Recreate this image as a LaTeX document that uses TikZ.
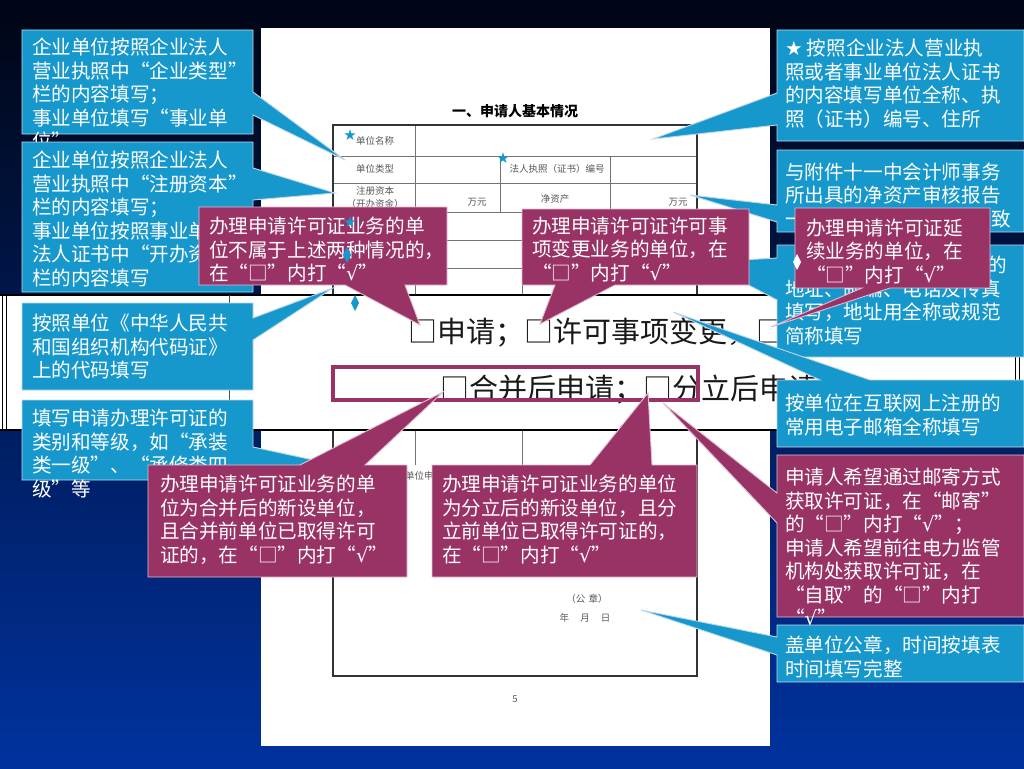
\documentclass[tikz,border=0pt]{standalone}
\usepackage{fontspec}
\setmainfont{Noto Sans CJK SC}
\newfontfamily\symf{DejaVu Sans}
\newcommand\ck{{\symf √}}
\definecolor{cblue}{RGB}{22,152,204}
\definecolor{cmag}{RGB}{153,51,102}
\definecolor{bgtop}{RGB}{0,5,20}
\definecolor{bgbot}{RGB}{0,50,158}
\definecolor{edgeb}{RGB}{190,215,235}
\definecolor{edgem}{RGB}{225,190,210}
\tikzset{
  bbox/.style={fill=cblue, draw=edgeb, line width=0.9pt, line join=miter},
  mbox/.style={fill=cmag, draw=edgem, line width=0.9pt, line join=miter},
  ctext/.style={anchor=north west, inner sep=0pt, outer sep=0pt, align=left, text=white,
    font=\fontsize{19.6}{23.5}\selectfont},
  tabtext/.style={font=\fontsize{9.5}{11}\selectfont, text=black!65, inner sep=0pt},
  gridline/.style={draw=black!55, line width=0.6pt},
  outerline/.style={draw=black!80, line width=1.4pt},
  starmark/.style={text=cblue, font=\symf\fontsize{15}{15}\selectfont, inner sep=0pt},
  bigtext/.style={anchor=west, inner sep=0pt, font=\fontsize{29}{29}\selectfont, text=black!90}
}
\begin{document}
\begin{tikzpicture}[x=1pt,y=-1pt]
\useasboundingbox (0,0) rectangle (1024,768);
% background
\shade[top color=bgtop, bottom color=bgbot] (0,0) rectangle (1024,768);
% page
\fill[white] (261,28) rectangle (770,746);
\node[font=\bfseries\fontsize{14}{14}\selectfont, inner sep=0pt] (title) at (515,111) {一、申请人基本情况};
% upper table
\draw[gridline] (333,156) -- (697,156) (333,183) -- (697,183) (333,212) -- (697,212)
  (333,240) -- (697,240) (333,268) -- (697,268);
\draw[gridline] (415,125) -- (415,295) (500,156) -- (500,212) (610,156) -- (610,212)
  (522,212) -- (522,295);
\draw[outerline] (333,125) rectangle (697,295);
\node[tabtext] (t1) at (375,141) {单位名称};
\node[tabtext] (t2) at (375,169) {单位类型};
\node[tabtext] (t3) at (557,169) {法人执照（证书）编号};
\node[tabtext] (t4) at (375,191) {注册资本};
\node[tabtext] (t5) at (375,204) {（开办资金）};
\node[tabtext] (t6) at (477,202) {万元};
\node[tabtext] (t7) at (555,199) {净资产};
\node[tabtext] (t8) at (678,202) {万元};
% lower table
\draw[gridline] (415,430) -- (415,465) (522,430) -- (522,465);
\draw[outerline] (333,430) -- (333,676) -- (697,676) -- (697,430);
\node[tabtext, anchor=west] (t9) at (405,476) {单位申请};
\node[tabtext] (seal) at (587,599) {（公\,\,章）};
\node[tabtext] (date) at (585,618) {年\quad\,月\quad\,日};
\node[tabtext] (pg) at (515,699) {5};
% enlarged strip
\fill[white] (0,295) rectangle (1024,430);
\draw[black, line width=1.4pt] (0,295) -- (1024,295) (0,430) -- (1024,430);
\draw[black, line width=1pt] (2,295) -- (2,430) (6,295) -- (6,430)
  (1015,355) -- (1015,390) (1019,355) -- (1019,390);
\draw[black!70, line width=1pt] (229,295) -- (229,430);
\node[bigtext] (line1) at (408,333) {□申请；□许可事项变更，□};
\node[bigtext] (line2) at (440,390) {□合并后申请；□分立后申请};
\draw[cmag, line width=4pt] (333,367) rectangle (698,400);
% left blue callouts
\coordinate (tb1) at (345,160);
\path[bbox] (22,30) -- (253,30) -- (253,92) -- (tb1) -- (253,115) -- (253,134) -- (22,134) -- cycle;
\node[ctext] (b1) at (32,38) {企业单位按照企业法人\\营业执照中“企业类型”\\栏的内容填写；\\事业单位填写“事业单\\位”};
\coordinate (tb2) at (335,193);
\path[bbox] (22,142) -- (253,142) -- (253,168) -- (tb2) -- (253,200) -- (253,292) -- (22,292) -- cycle;
\node[ctext] (b2) at (32,151) {企业单位按照企业法人\\营业执照中“注册资本”\\栏的内容填写；\\事业单位按照事业单位\\法人证书中“开办资金”\\栏的内容填写};
\coordinate (tb3) at (333,288);
\path[bbox] (22,303) -- (253,303) -- (253,318) -- (tb3) -- (253,340) -- (253,390) -- (22,390) -- cycle;
\node[ctext] (b3) at (32,314) {按照单位《中华人民共\\和国组织机构代码证》\\上的代码填写};
\coordinate (tb4) at (360,470);
\path[bbox] (22,400) -- (253,400) -- (253,447) -- (tb4) -- (253,472) -- (253,480) -- (22,480) -- cycle;
\node[ctext] (b4) at (32,409) {填写申请办理许可证的\\类别和等级，如“承装\\类一级”、“承修类四\\级”等};
% right blue callouts
\coordinate (tr1) at (653,139);
\path[bbox] (777,30) -- (1024,30) -- (1024,141) -- (777,141) -- (777,125) -- (tr1) -- (777,93) -- cycle;
\node[ctext] (r1) at (785,39) {{\symf ★} 按照企业法人营业执\\照或者事业单位法人证书\\的内容填写单位全称、执\\照（证书）编号、住所};
\coordinate (tr2) at (690,195);
\path[bbox] (777,150) -- (1024,150) -- (1024,232) -- (777,232) -- (777,222) -- (tr2) -- (777,205) -- cycle;
\node[ctext] (r2) at (785,163) {与附件十一中会计师事务\\所出具的净资产审核报告\\\makebox[226pt]{一\hfill 致}};
\coordinate (tr3) at (705,262);
\path[bbox] (777,245) -- (1024,245) -- (1024,357) -- (777,357) -- (777,300) -- (tr3) -- (777,258) -- cycle;
\node[ctext] (r3) at (785,256) {\makebox[222pt]{\hfill 的}\\地址、邮编、电话及传真\\填写，地址用全称或规范\\简称填写};
\coordinate (tr4) at (673,312);
\path[bbox] (777,380) -- (820,380) -- (tr4) -- (870,380) -- (1024,380) -- (1024,447) -- (777,447) -- cycle;
\node[ctext] (r4) at (785,394) {按单位在互联网上注册的\\常用电子邮箱全称填写};
% magenta callouts
\coordinate (tm1) at (420,325);
\path[mbox] (199,207) -- (447,207) -- (447,285) -- (405,285) -- (tm1) -- (345,285) -- (199,285) -- cycle;
\node[ctext] (m1) at (209,217) {办理申请许可证业务的单\\位不属于上述两种情况的，\\在“□”内打“\ck”};
\coordinate (tm2) at (540,324);
\path[mbox] (522,209) -- (749,209) -- (749,285) -- (615,285) -- (tm2) -- (555,285) -- (522,285) -- cycle;
\node[ctext] (m2) at (532,217) {办理申请许可证许可事\\项变更业务的单位，在\\“□”内打“\ck”};
\coordinate (tm3) at (771,327);
\path[mbox] (795,208) -- (990,208) -- (990,288) -- (890,288) -- (tm3) -- (862,288) -- (795,288) -- cycle;
\node[ctext] (m3) at (806,219) {办理申请许可证延\\续业务的单位，在\\“□”内打“\ck”};
\coordinate (tm4) at (443,392);
\path[mbox] (148,465) -- (300,465) -- (tm4) -- (365,465) -- (407,465) -- (407,577) -- (148,577) -- cycle;
\node[ctext] (m4) at (160,475) {办理申请许可证业务的单\\位为合并后的新设单位，\\且合并前单位已取得许可\\证的，在“□”内打“\ck”};
\coordinate (tm5) at (648,393);
\path[mbox] (432,465) -- (590,465) -- (tm5) -- (652,465) -- (697,465) -- (697,577) -- (432,577) -- cycle;
\node[ctext] (m5) at (442,475) {办理申请许可证业务的单位\\为分立后的新设单位，且分\\立前单位已取得许可证的，\\在“□”内打“\ck”};
\coordinate (tm6) at (663,403);
\path[mbox] (777,455) -- (1024,455) -- (1024,617) -- (777,617) -- (777,523) -- (tm6) -- (777,493) -- cycle;
\node[ctext] (m6) at (785,468) {申请人希望通过邮寄方式\\获取许可证，在“邮寄”\\的“□”内打“\ck”；\\申请人希望前往电力监管\\机构处获取许可证，在\\“自取”的“□”内打\\“\ck”};
% last blue callout
\coordinate (tr5) at (641,610);
\path[bbox] (777,625) -- (1024,625) -- (1024,682) -- (777,682) -- (777,655) -- (tr5) -- (777,637) -- cycle;
\node[ctext] (r5) at (785,636) {盖单位公章，时间按填表\\时间填写完整};
% markers
\node[starmark] (s1) at (350,135) {★};
\node[starmark] (s2) at (503,158) {★};
\node[starmark] (s3) at (350,222) {★};
\fill[cblue] (347,247) -- (351,255) -- (347,263) -- (343,255) -- cycle;
\fill[cblue] (355,295) -- (359,303) -- (355,311) -- (351,303) -- cycle;
\fill[white] (797,254) -- (801,262) -- (797,270) -- (793,262) -- cycle;
\end{tikzpicture}
\end{document}
